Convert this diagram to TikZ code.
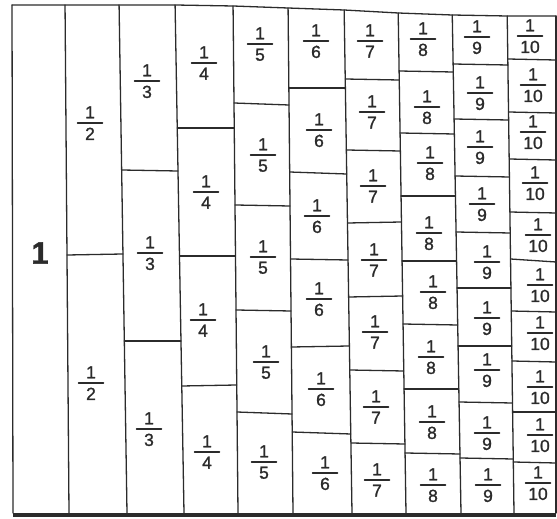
\documentclass[tikz,border=0pt]{standalone}
\usepackage{fontspec}
\setmainfont{Liberation Sans}
\newfontfamily\handfont[FakeBold=1.2]{Liberation Sans}
\usetikzlibrary{calc}
\definecolor{ink}{HTML}{2B2B2B}
\tikzset{
  ln/.style={draw=ink,line width=1.3pt,line cap=round,line join=round},
  dig/.style={inner sep=0pt,font=\handfont\fontsize{17.5}{17.5}\selectfont,text=ink},
  fbar/.style={draw=ink,line width=1.5pt,line cap=round}
}
\newcommand\fr[4]{%
  \node[dig,anchor=south] (#1n) at (#2,-#3+4.5) {1};
  \draw[fbar] (#2-12.5,-#3) -- (#2+12.5,-#3);
  \node[dig,anchor=north] (#1d) at (#2,-#3-4.5) {#4};}
\begin{document}
\begin{tikzpicture}[x=1pt,y=1pt]
\useasboundingbox (0,0) rectangle (557,-519);
% column boundaries: x at y=0 (t) and at y=513 (u), top y
\foreach \i/\xa/\xb/\yt in {0/12/13/5,1/65/69/5,2/119/127/5,3/175/184/5,4/233/238/6,5/288/293/8,6/344/352/10,7/398/406/13,8/452/461/15,9/507/514/16,10/556/556/16}{
  \coordinate (t\i) at (\xa,0);
  \coordinate (u\i) at (\xb,-513);
  \coordinate (p\i) at ($(t\i)!{\yt/513}!(u\i)$);
  \draw[ln] (p\i) -- (u\i);
}
% top edge
\draw[ln] (p0) -- (p1) -- (p2) -- (p3) -- (p4) -- (p5) -- (p6) -- (p7) -- (p8) -- (p9) -- (p10);
% bottom edge
\draw[draw=ink,line width=4pt] ([yshift=-2pt]u0) -- ([yshift=-2pt]u10);
% horizontal dividers: left boundary / right boundary / y left / y right
\foreach \a/\b/\yl/\yr in {
  1/2/255/254,
  2/3/170/171, 2/3/341/341,
  3/4/128/128, 3/4/256/256, 3/4/386/385,
  4/5/103/105, 4/5/205/206, 4/5/310/311, 4/5/412/414,
  5/6/88/88, 5/6/172/174, 5/6/259/260, 5/6/347/346, 5/6/432/434,
  6/7/79/80, 6/7/150/151, 6/7/223/222, 6/7/297/296, 6/7/370/371, 6/7/443/444,
  7/8/71/72, 7/8/133/134, 7/8/196/196, 7/8/261/261, 7/8/324/325, 7/8/389/389, 7/8/453/454,
  8/9/64/65, 8/9/119/120, 8/9/176/177, 8/9/232/233, 8/9/288/288, 8/9/346/346, 8/9/402/403, 8/9/458/459,
  9/10/59/60, 9/10/112/113, 9/10/159/160, 9/10/212/213, 9/10/259/262, 9/10/311/312, 9/10/361/362, 9/10/412/412, 9/10/462/463}{
  \draw[ln] ($(t\a)!{\yl/513}!(u\a)$) -- ($(t\b)!{\yr/513}!(u\b)$);
}
% labels
\node[inner sep=0pt,font=\handfont\fontsize{31}{31}\selectfont\bfseries,text=ink] (one) at (40,-253) {1};
\fr{hA}{90}{123}{2}
\fr{hB}{91}{383}{2}
\fr{tA}{147}{81}{3}
\fr{tB}{150}{253}{3}
\fr{tC}{149}{429}{3}
\fr{qA}{204}{63}{4}
\fr{qB}{206}{192}{4}
\fr{qC}{203}{320}{4}
\fr{qD}{207}{452}{4}
\fr{fA}{260}{44}{5}
\fr{fB}{263}{155}{5}
\fr{fC}{263}{257}{5}
\fr{fD}{266}{362}{5}
\fr{fE}{264}{462}{5}
\fr{sA}{316}{41}{6}
\fr{sB}{319}{130}{6}
\fr{sC}{317}{216}{6}
\fr{sD}{319}{299}{6}
\fr{sE}{321}{389}{6}
\fr{sF}{325}{473}{6}
\fr{vA}{370}{41}{7}
\fr{vB}{372}{112}{7}
\fr{vC}{373}{186}{7}
\fr{vD}{374}{260}{7}
\fr{vE}{375}{332}{7}
\fr{vF}{376}{407}{7}
\fr{vG}{377}{480}{7}
\fr{eA}{423}{39}{8}
\fr{eB}{427}{107}{8}
\fr{eC}{430}{163}{8}
\fr{eD}{429}{233}{8}
\fr{eE}{433}{292}{8}
\fr{eF}{431}{357}{8}
\fr{eG}{432}{422}{8}
\fr{eH}{433}{485}{8}
\fr{nA}{477}{37}{9}
\fr{nB}{480}{93}{9}
\fr{nC}{480}{147}{9}
\fr{nD}{482}{204}{9}
\fr{nE}{487}{262}{9}
\fr{nF}{487}{318}{9}
\fr{nG}{487}{370}{9}
\fr{nH}{487}{433}{9}
\fr{nI}{488}{485}{9}
\fr{zA}{530}{36}{10}
\fr{zB}{533}{85}{10}
\fr{zC}{533}{132}{10}
\fr{zD}{535}{183}{10}
\fr{zE}{538}{235}{10}
\fr{zF}{540}{285}{10}
\fr{zG}{540}{333}{10}
\fr{zH}{540}{387}{10}
\fr{zI}{540}{435}{10}
\fr{zJ}{538}{483}{10}
\end{tikzpicture}
\end{document}
